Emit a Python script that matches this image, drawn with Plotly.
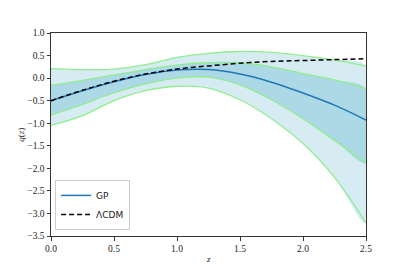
import plotly.graph_objects as go

z = [0.0, 0.25, 0.5, 0.75, 1.0, 1.25, 1.5, 1.75, 2.0, 2.25, 2.5]
gp_mean = [-0.50, -0.28, -0.08, 0.08, 0.18, 0.19, 0.09, -0.09, -0.33, -0.60, -0.93]
inner_upper = [-0.16, -0.05, 0.07, 0.19, 0.29, 0.34, 0.34, 0.25, 0.10, -0.04, -0.24]
inner_lower = [-0.82, -0.58, -0.33, -0.13, 0.00, 0.02, -0.15, -0.48, -0.90, -1.38, -1.88]
outer_upper = [0.21, 0.19, 0.20, 0.30, 0.46, 0.55, 0.59, 0.57, 0.50, 0.40, 0.27]
outer_lower = [-1.05, -0.83, -0.50, -0.28, -0.18, -0.22, -0.48, -0.90, -1.45, -2.20, -3.21]
lcdm = [-0.50, -0.27, -0.07, 0.09, 0.20, 0.27, 0.33, 0.37, 0.39, 0.41, 0.43]

x_ticks = [0.0, 0.5, 1.0, 1.5, 2.0, 2.5]
y_ticks = [1.0, 0.5, 0.0, -0.5, -1.0, -1.5, -2.0, -2.5, -3.0, -3.5]

GREEN = "#90ee90"
OUTER_FILL = "#d6ebf2"
INNER_FILL = "#add8e6"
SERIF = "Liberation Serif, DejaVu Serif, serif"

fig = go.Figure()

fig.add_trace(go.Scatter(x=z + z[::-1], y=outer_upper + outer_lower[::-1],
                         mode="lines", fill="toself", fillcolor=OUTER_FILL,
                         line=dict(width=0, shape="spline"), showlegend=False, hoverinfo="skip"))
fig.add_trace(go.Scatter(x=z + z[::-1], y=inner_upper + inner_lower[::-1],
                         mode="lines", fill="toself", fillcolor=INNER_FILL,
                         line=dict(width=0, shape="spline"), showlegend=False, hoverinfo="skip"))
for arr in (outer_upper, outer_lower, inner_upper, inner_lower):
    fig.add_trace(go.Scatter(x=z, y=arr, mode="lines",
                             line=dict(color=GREEN, width=1.3, shape="spline"),
                             showlegend=False, hoverinfo="skip"))

fig.add_trace(go.Scatter(x=z, y=gp_mean, mode="lines", name="GP",
                         line=dict(color="#1f77b4", width=1.5, shape="spline")))
fig.add_trace(go.Scatter(x=z, y=lcdm, mode="lines", name="ΛCDM",
                         line=dict(color="black", width=1.5, dash="5px,3px", shape="spline")))

axis_common = dict(showgrid=False, zeroline=False, showline=True, linecolor="#333333",
                   linewidth=1, mirror=True, ticks="outside", ticklen=3.5, tickwidth=0.8,
                   tickcolor="#333333", automargin=False,
                   tickfont=dict(family=SERIF, size=9.5, color="#222222"))

fig.update_layout(
    width=391, height=255,
    margin=dict(l=43, r=33, t=25, b=27),
    paper_bgcolor="white", plot_bgcolor="white",
    xaxis=dict(range=[0, 2.5], tickvals=x_ticks, tickformat=".1f", **axis_common),
    yaxis=dict(range=[-3.5, 1.0], tickvals=y_ticks, tickformat=".1f", **axis_common),
    legend=dict(x=0.013, y=0.03, xanchor="left", yanchor="bottom",
                bgcolor="rgba(255,255,255,0.85)", bordercolor="#cccccc", borderwidth=1,
                font=dict(family="DejaVu Sans, sans-serif", size=9, color="#222"),
                tracegroupgap=0, itemwidth=30),
    showlegend=True,
    annotations=[
        dict(text="<i>z</i>", x=0.5, y=-0.113, xref="paper", yref="paper",
             showarrow=False, xanchor="center", yanchor="middle",
             font=dict(family=SERIF, size=9, color="#222")),
        dict(text="<i>q</i>(<i>z</i>)", x=-0.098, y=0.5, xref="paper", yref="paper",
             showarrow=False, xanchor="center", yanchor="middle", textangle=-90,
             font=dict(family=SERIF, size=9, color="#222")),
    ],
)

fig.write_html("out.html")
